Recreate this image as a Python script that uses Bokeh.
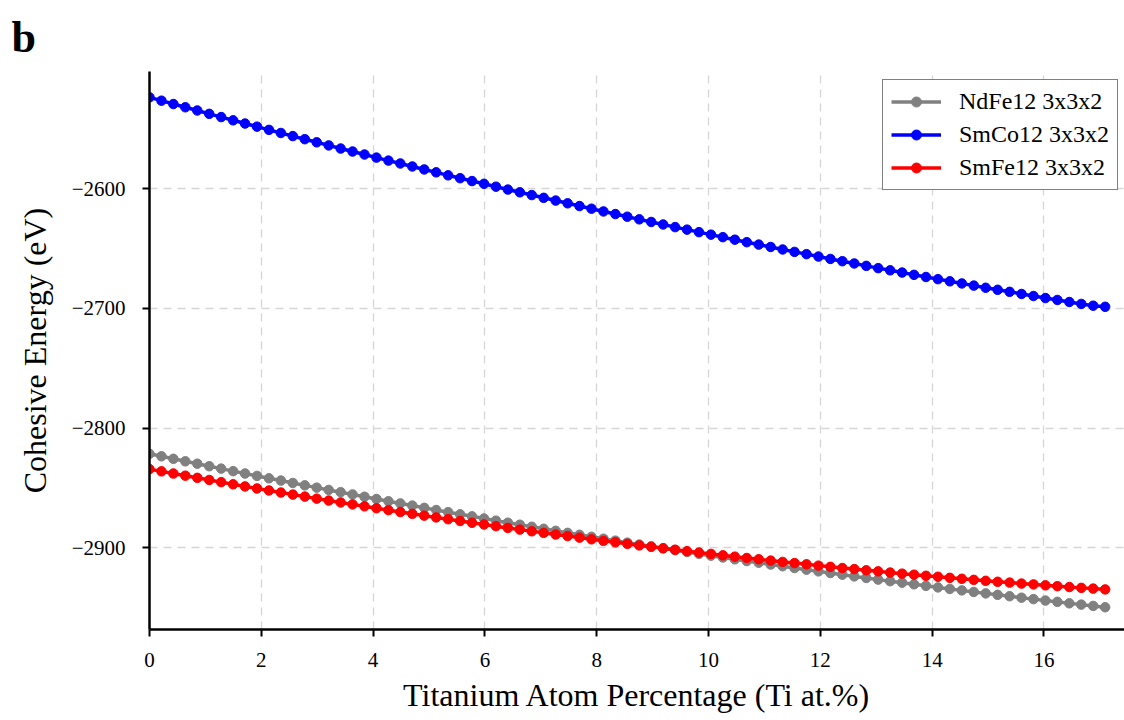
from bokeh.plotting import figure
from bokeh.models import (Range1d, FixedTicker, CustomJSTickFormatter, Legend, LegendItem, Title)
from bokeh.embed import file_html
from bokeh.resources import INLINE

# Ti at.% (n Ti atoms substituted in a 3x3x2 supercell)
ti_pct = [0.000, 0.214, 0.427, 0.641, 0.855, 1.068, 1.282, 1.496, 1.709, 1.923,
          2.137, 2.350, 2.564, 2.778, 2.991, 3.205, 3.419, 3.632, 3.846, 4.060,
          4.274, 4.487, 4.701, 4.915, 5.128, 5.342, 5.556, 5.769, 5.983, 6.197,
          6.410, 6.624, 6.838, 7.051, 7.265, 7.479, 7.692, 7.906, 8.120, 8.333,
          8.547, 8.761, 8.974, 9.188, 9.402, 9.615, 9.829, 10.043, 10.256, 10.470,
          10.684, 10.897, 11.111, 11.325, 11.538, 11.752, 11.966, 12.179, 12.393, 12.607,
          12.821, 13.034, 13.248, 13.462, 13.675, 13.889, 14.103, 14.316, 14.530, 14.744,
          14.957, 15.171, 15.385, 15.598, 15.812, 16.026, 16.239, 16.453, 16.667, 16.880,
          17.094]

ndfe12 = [-2821.5, -2823.6, -2825.7, -2827.8, -2829.8, -2831.9, -2833.9, -2836.0, -2838.0, -2840.0,
          -2842.0, -2843.9, -2845.9, -2847.9, -2849.8, -2851.7, -2853.6, -2855.5, -2857.4, -2859.3,
          -2861.2, -2863.0, -2864.8, -2866.7, -2868.5, -2870.3, -2872.1, -2873.8, -2875.6, -2877.4,
          -2879.1, -2880.8, -2882.5, -2884.2, -2885.9, -2887.6, -2889.2, -2890.9, -2892.5, -2894.1,
          -2895.8, -2897.4, -2898.9, -2900.5, -2902.1, -2903.6, -2905.2, -2906.7, -2908.2, -2909.7,
          -2911.2, -2912.6, -2914.1, -2915.5, -2917.0, -2918.4, -2919.8, -2921.2, -2922.6, -2924.0,
          -2925.3, -2926.7, -2928.0, -2929.3, -2930.6, -2931.9, -2933.2, -2934.5, -2935.7, -2937.0,
          -2938.2, -2939.4, -2940.6, -2941.8, -2943.0, -2944.2, -2945.3, -2946.5, -2947.6, -2948.7,
          -2949.8]

smco12 = [-2523.5, -2526.3, -2529.1, -2531.8, -2534.5, -2537.3, -2540.0, -2542.7, -2545.4, -2548.0,
          -2550.7, -2553.3, -2555.9, -2558.5, -2561.1, -2563.7, -2566.3, -2568.8, -2571.3, -2573.9,
          -2576.4, -2578.8, -2581.3, -2583.8, -2586.2, -2588.7, -2591.1, -2593.5, -2595.8, -2598.2,
          -2600.6, -2602.9, -2605.2, -2607.5, -2609.8, -2612.1, -2614.4, -2616.6, -2618.9, -2621.1,
          -2623.3, -2625.5, -2627.7, -2629.8, -2632.0, -2634.1, -2636.2, -2638.3, -2640.4, -2642.5,
          -2644.6, -2646.6, -2648.6, -2650.7, -2652.7, -2654.6, -2656.6, -2658.6, -2660.5, -2662.4,
          -2664.4, -2666.3, -2668.1, -2670.0, -2671.9, -2673.7, -2675.5, -2677.3, -2679.1, -2680.9,
          -2682.7, -2684.4, -2686.1, -2687.9, -2689.6, -2691.3, -2692.9, -2694.6, -2696.2, -2697.7,
          -2698.6]

smfe12 = [-2834.3, -2836.2, -2838.0, -2839.8, -2841.6, -2843.4, -2845.2, -2847.0, -2848.8, -2850.5,
          -2852.2, -2853.9, -2855.6, -2857.3, -2859.0, -2860.6, -2862.2, -2863.8, -2865.4, -2867.0,
          -2868.6, -2870.2, -2871.7, -2873.2, -2874.7, -2876.2, -2877.7, -2879.2, -2880.6, -2882.0,
          -2883.5, -2884.9, -2886.3, -2887.6, -2889.0, -2890.3, -2891.6, -2893.0, -2894.3, -2895.5,
          -2896.8, -2898.1, -2899.3, -2900.5, -2901.7, -2902.9, -2904.1, -2905.2, -2906.4, -2907.5,
          -2908.6, -2909.7, -2910.8, -2911.9, -2912.9, -2913.9, -2915.0, -2916.0, -2917.0, -2917.9,
          -2918.9, -2919.8, -2920.8, -2921.7, -2922.6, -2923.5, -2924.3, -2925.2, -2926.0, -2926.9,
          -2927.7, -2928.5, -2929.2, -2930.0, -2930.7, -2931.5, -2932.2, -2932.9, -2933.6, -2934.2,
          -2934.9]

series_names = ["NdFe12 3x3x2", "SmCo12 3x3x2", "SmFe12 3x3x2"]
series_values = [ndfe12, smco12, smfe12]
series_colors = ["#808080", "#0000ff", "#ff0000"]

x_ticks = [0, 2, 4, 6, 8, 10, 12, 14, 16]
y_ticks = [-2900, -2800, -2700, -2600]

FONT = "Liberation Serif"

p = figure(width=1124, height=720, output_backend="svg", toolbar_location=None,
           x_range=Range1d(0, 17.44), y_range=Range1d(-2968.4, -2501.9),
           min_border_left=149, min_border_right=0, min_border_top=70, min_border_bottom=91)
p.outline_line_color = None
p.background_fill_color = "white"
p.border_fill_color = "white"

for ax in (p.xaxis[0], p.yaxis[0]):
    ax.axis_line_width = 2.5
    ax.axis_line_color = "black"
    ax.major_tick_line_width = 2
    ax.major_tick_line_color = "black"
    ax.major_tick_out = 7
    ax.major_tick_in = 0
    ax.minor_tick_line_color = None
    ax.major_label_text_font = FONT
    ax.major_label_text_font_size = "21px"
    ax.major_label_text_color = "black"
    ax.axis_label_text_font = FONT
    ax.axis_label_text_font_size = "32px"
    ax.axis_label_text_font_style = "normal"
    ax.axis_label_text_color = "black"

p.xaxis.ticker = FixedTicker(ticks=x_ticks)
p.yaxis.ticker = FixedTicker(ticks=y_ticks)
p.yaxis.formatter = CustomJSTickFormatter(code="return (tick < 0 ? '\u2212' : '') + Math.abs(tick).toFixed(0);")
p.xaxis.axis_label = "Titanium Atom Percentage (Ti at.%)"
p.yaxis.axis_label = "Cohesive Energy (eV)"
p.xaxis.major_label_standoff = 16
p.yaxis.major_label_standoff = 17
p.xaxis.axis_label_standoff = 7
p.yaxis.axis_label_standoff = 16

for g in (p.xgrid[0], p.ygrid[0]):
    g.grid_line_color = "#d6d6d6"
    g.grid_line_width = 1.3
    g.grid_line_dash = "8 6"

items = []
for name, vals, col in zip(series_names, series_values, series_colors):
    l = p.line(ti_pct, vals, line_color=col, line_width=3.5)
    s = p.scatter(ti_pct, vals, size=9.5, fill_color=col, line_color=col)
    items.append(LegendItem(label=name, renderers=[l, s]))

legend = Legend(items=items, location=(733, 439), margin=0,
                label_text_font=FONT, label_text_font_size="24px", label_text_color="black",
                glyph_width=50, glyph_height=25, label_height=25,
                label_standoff=18, spacing=6, padding=8,
                border_line_color="black", border_line_width=1.3,
                background_fill_color="white", background_fill_alpha=1.0)
p.add_layout(legend, "center")

panel_title = Title(text="b", align="left", offset=-138, standoff=20,
                    text_font=FONT, text_font_size="44px", text_font_style="bold",
                    text_color="black")
p.add_layout(panel_title, "above")

open("out.html", "w").write(file_html(p, INLINE))
